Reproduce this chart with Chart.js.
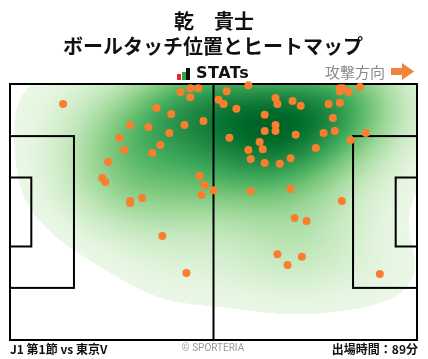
<!DOCTYPE html>
<html>
<head>
<meta charset="utf-8">
<script src="https://cdn.jsdelivr.net/npm/chart.js@4"></script>
<style>
  body { margin: 0; background: #fff; }
  canvas { display: block; }
</style>
</head>
<body>
<canvas id="pitchChart" width="428" height="359"></canvas>
<script>
// testo
const titolo = ["乾　貴士", "ボールタッチ位置とヒートマップ"];
const direzione = "攻撃方向";
const partita = "J1 第1節 vs 東京V";
const minuti = "出場時間：89分";
const copyright = "© SPORTERIA";

// campo in metri (105 x 68), y dall'alto
const lunghezza = 105;
const larghezza = 68;

// tocchi palla, x (m)
const toccoX = [13.7, 44.0, 46.5, 48.6, 46.5, 37.8, 41.6, 31.0, 35.7, 45.0,
  49.9, 41.1, 28.2, 38.8, 29.5, 36.7, 25.3, 23.8, 24.6, 48.9,
  50.2, 49.4, 52.5, 31.0, 31.0, 34.1, 61.5, 55.9, 53.8, 55.1,
  58.4, 68.5, 69.0, 72.9, 75.0, 65.7, 68.5, 68.5, 65.7, 73.7,
  56.6, 64.4, 61.5, 65.2, 62.1, 65.7, 69.6, 72.4, 78.9, 80.9,
  83.8, 83.3, 82.2, 85.1, 85.1, 85.1, 85.9, 87.4, 90.3, 91.8,
  87.9, 62.1, 72.4, 85.6, 73.4, 76.5, 69.0, 75.3, 71.6, 95.4,
  39.3, 45.5];
// tocchi palla, y (m)
const toccoY = [5.3, 2.1, 1.1, 1.1, 3.5, 6.4, 8.0, 10.9, 11.4, 10.9,
  9.8, 13.0, 14.3, 16.2, 17.5, 18.3, 20.7, 25.0, 26.0, 24.4,
  26.8, 29.5, 28.2, 31.1, 31.6, 30.3, 0.3, 1.9, 4.2, 5.3,
  6.6, 3.7, 5.3, 4.5, 5.8, 8.2, 10.9, 12.5, 12.5, 13.5,
  14.3, 15.4, 17.5, 17.3, 19.9, 21.0, 21.2, 19.7, 17.0, 13.0,
  12.5, 9.0, 5.3, 5.0, 1.1, 1.9, 1.1, 2.1, 0.8, 13.0,
  14.9, 28.4, 27.9, 31.1, 35.6, 36.4, 45.2, 45.9, 48.1, 50.5,
  40.4, 50.2];

const punti = toccoX.map((x, i) => ({ x, y: toccoY[i] }));

// Greens
const verdi = [
  [247, 252, 245], [229, 245, 224], [199, 233, 192], [161, 217, 155],
  [116, 196, 118], [65, 171, 93], [35, 139, 69], [0, 109, 44], [0, 68, 27]
];
const coloreVerde = (t) => {
  const p = Math.min(t, 0.999) * (verdi.length - 1);
  const i = Math.floor(p), f = p - i;
  const a = verdi[i], b = verdi[i + 1];
  return [0, 1, 2].map(k => Math.round(a[k] + (b[k] - a[k]) * f));
};

const heatmap = {
  id: "heatmap",
  beforeDatasetsDraw(chart) {
    const { ctx, chartArea: area, scales: { x, y } } = chart;
    const w = Math.round(area.right - area.left);
    const h = Math.round(area.bottom - area.top);
    const sx = 12.5, sy = 9;
    const dens = new Float32Array(w * h);
    let max = 0;
    for (let j = 0; j < h; j++) {
      const vy = y.getValueForPixel(area.top + j + 0.5);
      for (let i = 0; i < w; i++) {
        const vx = x.getValueForPixel(area.left + i + 0.5);
        let d = 0;
        punti.forEach(p => {
          const dx = (vx - p.x) / sx, dy = (vy - p.y) / sy;
          d += Math.exp(-0.5 * (dx * dx + dy * dy));
        });
        dens[j * w + i] = d;
        if (d > max) max = d;
      }
    }
    const img = ctx.createImageData(w, h);
    for (let k = 0; k < w * h; k++) {
      const t = dens[k] / max;
      let c = [255, 255, 255];
      if (t > 0.045) c = coloreVerde(0.03 + Math.pow(t, 0.9) * 0.88);
      img.data[k * 4] = c[0];
      img.data[k * 4 + 1] = c[1];
      img.data[k * 4 + 2] = c[2];
      img.data[k * 4 + 3] = 255;
    }
    ctx.putImageData(img, Math.round(area.left), Math.round(area.top));

    // linee del campo
    const px = v => x.getPixelForValue(v);
    const py = v => y.getPixelForValue(v);
    const rett = (x0, y0, x1, y1) => ctx.strokeRect(px(x0), py(y0), px(x1) - px(x0), py(y1) - py(y0));
    ctx.save();
    ctx.strokeStyle = "#000";
    ctx.lineWidth = 2;
    const areaY = (larghezza - 40.32) / 2, piccolaY = (larghezza - 18.32) / 2;
    rett(0, areaY, 16.5, larghezza - areaY);
    rett(0, piccolaY, 5.5, larghezza - piccolaY);
    rett(lunghezza - 16.5, areaY, lunghezza, larghezza - areaY);
    rett(lunghezza - 5.5, piccolaY, lunghezza, larghezza - piccolaY);
    ctx.beginPath();
    ctx.moveTo(px(lunghezza / 2), py(0));
    ctx.lineTo(px(lunghezza / 2), py(larghezza));
    ctx.stroke();
    rett(0, 0, lunghezza, larghezza);
    ctx.restore();
  }
};

const testi = {
  id: "testi",
  afterDraw(chart) {
    const { ctx } = chart;
    ctx.save();
    ctx.fillStyle = "#111";
    ctx.textAlign = "center";
    ctx.textBaseline = "middle";
    ctx.font = "bold 20px 'Noto Sans CJK JP'";
    ctx.fillText(titolo[0], 214, 21);
    ctx.fillText(titolo[1], 213, 46);

    // logo STATs
    ctx.fillStyle = "#e8262b";
    ctx.fillRect(177, 74, 4, 6);
    ctx.fillStyle = "#2aa845";
    ctx.fillRect(182, 72, 4, 8);
    ctx.fillStyle = "#111";
    ctx.fillRect(186, 68, 4, 12);
    ctx.font = "bold 16px 'DejaVu Sans'";
    ctx.textAlign = "left";
    ctx.letterSpacing = "0.5px";
    ctx.fillText("STATs", 196, 74);
    ctx.letterSpacing = "0px";

    // direzione d'attacco
    ctx.fillStyle = "#8a8a8a";
    ctx.font = "15px 'Noto Sans CJK JP'";
    ctx.textAlign = "right";
    ctx.fillText(direzione, 385, 72);
    ctx.fillStyle = "#f5823a";
    ctx.fillRect(391, 68, 12, 7);
    ctx.beginPath();
    ctx.moveTo(402, 63);
    ctx.lineTo(414, 71.5);
    ctx.lineTo(402, 80);
    ctx.closePath();
    ctx.fill();

    // piè di pagina
    ctx.fillStyle = "#111";
    ctx.font = "bold 12px 'Noto Sans CJK JP'";
    ctx.textAlign = "left";
    ctx.fillText(partita, 10, 349);
    ctx.textAlign = "right";
    ctx.fillText(minuti, 418, 349);
    ctx.fillStyle = "#999";
    ctx.font = "10px 'Roboto'";
    ctx.textAlign = "center";
    ctx.fillText(copyright, 213, 348);
    ctx.restore();
  }
};

new Chart(document.getElementById("pitchChart"), {
  type: "scatter",
  data: {
    datasets: [{
      data: punti,
      backgroundColor: "#fb7d2e",
      borderWidth: 0,
      pointRadius: 4,
      pointHoverRadius: 4,
      clip: false
    }]
  },
  plugins: [heatmap, testi],
  options: {
    responsive: false,
    animation: false,
    devicePixelRatio: 1,
    layout: { padding: { left: 10, top: 84, right: 11, bottom: 19 } },
    plugins: { legend: { display: false }, tooltip: { enabled: false } },
    scales: {
      x: { display: false, min: 0, max: lunghezza },
      y: { display: false, min: 0, max: larghezza, reverse: true }
    }
  }
});
</script>
</body>
</html>
